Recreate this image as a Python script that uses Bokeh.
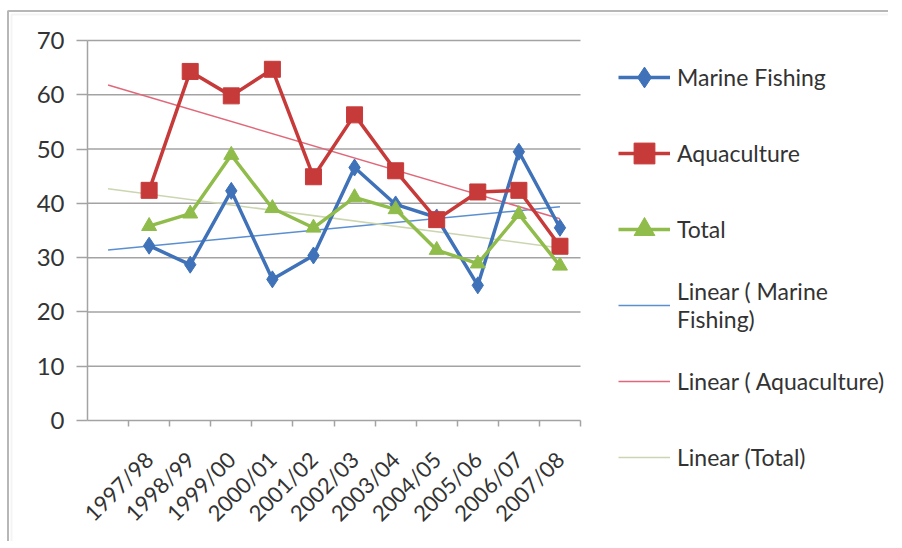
import numpy as np
from bokeh.plotting import figure
from bokeh.models import Range1d, FixedTicker, Legend, LegendItem, BoxAnnotation
from bokeh.embed import file_html
from bokeh.resources import INLINE

# ---- data ----
years = ["1997/98", "1998/99", "1999/00", "2000/01", "2001/02", "2002/03",
         "2003/04", "2004/05", "2005/06", "2006/07", "2007/08"]
marine = [32.2, 28.7, 42.3, 26.0, 30.4, 46.6, 39.8, 37.4, 24.9, 49.5, 35.5]
aqua = [42.4, 64.3, 59.8, 64.7, 44.9, 56.3, 46.0, 37.0, 42.1, 42.4, 32.1]
total = [35.8, 38.1, 48.9, 39.1, 35.5, 41.1, 38.9, 31.4, 28.9, 38.0, 28.5]
n_slots = 12          # first category slot is empty
y_ticks = [0, 10, 20, 30, 40, 50, 60, 70]

xs = list(range(n_slots - len(years) + 1, n_slots + 1))
slots = list(range(1, n_slots + 1))
x_lo, x_hi = 0.5, n_slots + 0.5
y_lo, y_hi = y_ticks[0], y_ticks[-1]

FONT = "Lato"
TXT = "#333333"
GRID = "#a3a3a3"
BLUE, RED, GREEN = "#3f72b8", "#c73a3a", "#8fbc4a"
T_BLUE, T_RED, T_GREEN = "#5b8fd0", "#e0687a", "#cbd6b0"

# ---- layout (page pixels; the canvas starts at the page corner) ----
W, H = 888, 541
AREA_L, AREA_R, AREA_T, AREA_B = 87, 580, 40, 420   # plotting area of the chart
px_x = (AREA_R - AREA_L) / (x_hi - x_lo)
px_y = (AREA_B - AREA_T) / (y_hi - y_lo)
x_start = x_lo - AREA_L / px_x
x_end = x_hi + (W - AREA_R) / px_x
y_end = y_hi + AREA_T / px_y
y_start = y_lo - (H - AREA_B) / px_y

def page_x(px):
    return x_start + px / px_x

def page_y(py):
    return y_end - py / px_y

p = figure(width=W, height=H, output_backend="svg", toolbar_location=None,
           x_range=Range1d(x_start, x_end), y_range=Range1d(y_start, y_end),
           min_border_left=0, min_border_right=0,
           min_border_top=0, min_border_bottom=0,
           outline_line_color=None)

# chart-area frame: dark line on top/left with a faint inner line
p.add_layout(BoxAnnotation(left=page_x(11), top=page_y(14),
                           right=x_end + 5, bottom=y_start - 5,
                           fill_alpha=0, line_color="#d9d9d9", line_width=2))
p.add_layout(BoxAnnotation(left=page_x(7.5), top=page_y(10.5),
                           right=x_end + 5, bottom=y_start - 5,
                           fill_alpha=0, line_color="#111111", line_width=2))

# y axis (sits at the left edge of the plotting area)
p.yaxis.fixed_location = x_lo
p.yaxis.ticker = FixedTicker(ticks=y_ticks)
p.yaxis.bounds = (y_lo, y_hi)
p.yaxis.axis_line_color = GRID
p.yaxis.axis_line_width = 1.5
p.yaxis.major_tick_line_color = GRID
p.yaxis.major_tick_line_width = 1.5
p.yaxis.major_tick_out = 11
p.yaxis.major_tick_in = 0
p.yaxis.minor_tick_line_color = None
p.yaxis.major_label_text_font = FONT
p.yaxis.major_label_text_font_size = "24px"
p.yaxis.major_label_text_color = TXT
p.yaxis.major_label_standoff = 12

# x axis (sits at y = 0)
p.xaxis.fixed_location = y_lo
p.xaxis.bounds = (x_lo, x_hi)
p.xaxis.ticker = FixedTicker(ticks=xs, minor_ticks=[s + 0.5 for s in slots])
p.xaxis.major_label_overrides = {x: y for x, y in zip(xs, years)}
p.xaxis.major_label_orientation = np.pi / 4
p.xaxis.axis_line_color = GRID
p.xaxis.axis_line_width = 1.5
p.xaxis.major_tick_line_color = None
p.xaxis.minor_tick_line_color = GRID
p.xaxis.minor_tick_line_width = 1.5
p.xaxis.minor_tick_out = 6
p.xaxis.minor_tick_in = 0
p.xaxis.major_label_text_font = FONT
p.xaxis.major_label_text_font_size = "22px"
p.xaxis.major_label_text_color = TXT
p.xaxis.major_label_standoff = 29

# horizontal gridlines limited to the plotting area
p.grid.visible = False
gy = y_ticks[1:]
p.segment(x0=[x_lo] * len(gy), x1=[x_hi] * len(gy), y0=gy, y1=gy,
          line_color=GRID, line_width=1.5)

# ---- trend lines (least squares fit over data, drawn across all slots) ----
def trend(vals):
    k, b = np.polyfit(xs, vals, 1)
    ends = [slots[0], slots[-1]]
    return ends, [k * e + b for e in ends]

tm_x, tm_y = trend(marine)
ta_x, ta_y = trend(aqua)
tt_x, tt_y = trend(total)
r_tm = p.line(tm_x, tm_y, line_color=T_BLUE, line_width=1.5)
r_ta = p.line(ta_x, ta_y, line_color=T_RED, line_width=1.5)
r_tt = p.line(tt_x, tt_y, line_color=T_GREEN, line_width=1.5)

# ---- series ----
r_ml = p.line(xs, marine, line_color=BLUE, line_width=3.5)
r_ms = p.scatter(xs, marine, marker="diamond", size=17, fill_color=BLUE, line_color=BLUE)
r_al = p.line(xs, aqua, line_color=RED, line_width=3.5)
r_as = p.scatter(xs, aqua, marker="square", size=16, fill_color=RED, line_color=RED)
r_gl = p.line(xs, total, line_color=GREEN, line_width=3.5)
r_gs = p.scatter(xs, total, marker="triangle", size=15, fill_color=GREEN, line_color=GREEN)

# ---- legend ----
LEG_L, LEG_T, ITEM_H, GAP = 618, 40, 74, 2
items = [
    LegendItem(label="Marine Fishing", renderers=[r_ml, r_ms]),
    LegendItem(label="Aquaculture", renderers=[r_al, r_as]),
    LegendItem(label="Total", renderers=[r_gl, r_gs]),
    LegendItem(label="Linear ( Marine\nFishing)", renderers=[r_tm]),
    LegendItem(label="Linear ( Aquaculture)", renderers=[r_ta]),
    LegendItem(label="Linear (Total)", renderers=[r_tt]),
]
leg_h = len(items) * ITEM_H + (len(items) - 1) * GAP
legend = Legend(items=items, location=(LEG_L, H - (LEG_T + leg_h)),
                glyph_width=52, glyph_height=ITEM_H, label_height=ITEM_H,
                label_standoff=7, padding=0, margin=0, spacing=GAP,
                border_line_color=None, background_fill_alpha=0,
                label_text_font=FONT, label_text_font_size="23px",
                label_text_color=TXT)
p.add_layout(legend, "center")

open("out.html", "w").write(file_html(p, INLINE))
